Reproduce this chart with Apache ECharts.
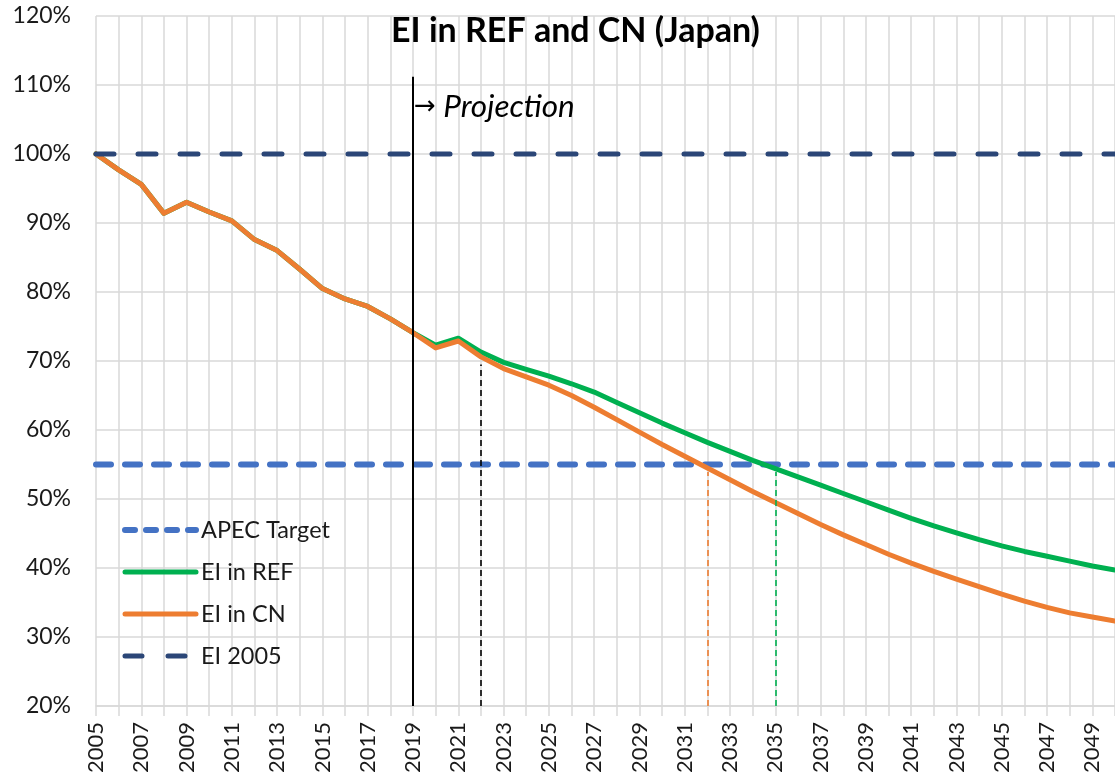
<!DOCTYPE html>
<html>
<head>
<meta charset="utf-8">
<script src="https://cdn.jsdelivr.net/npm/echarts@6/dist/echarts.min.js"></script>
<style>
html,body{margin:0;padding:0;background:#fff;}
#chart{width:1115px;height:780px;}
</style>
</head>
<body>
<div id="chart"></div>
<script>
// ---- Data ----
const years = ['2005','2006','2007','2008','2009','2010','2011','2012','2013','2014','2015','2016','2017','2018','2019','2020','2021','2022','2023','2024','2025','2026','2027','2028','2029','2030','2031','2032','2033','2034','2035','2036','2037','2038','2039','2040','2041','2042','2043','2044','2045','2046','2047','2048','2049','2050'];

const eiREF = [100,97.7,95.6,91.4,93.0,91.6,90.3,87.6,86.0,83.3,80.5,79.0,77.9,76.1,74.1,72.3,73.3,71.3,69.8,68.8,67.8,66.7,65.5,64.0,62.5,61.0,59.6,58.2,56.9,55.6,54.4,53.2,52.0,50.8,49.6,48.4,47.2,46.1,45.1,44.1,43.2,42.4,41.7,41.0,40.3,39.7];

const eiCN = [100,97.7,95.6,91.4,93.0,91.6,90.3,87.6,86.0,83.3,80.5,79.0,77.9,76.1,74.1,71.9,72.9,70.6,68.9,67.7,66.5,65.0,63.3,61.5,59.7,57.9,56.2,54.5,52.8,51.1,49.5,47.9,46.3,44.8,43.4,42.0,40.7,39.5,38.4,37.3,36.2,35.2,34.3,33.5,32.9,32.3];

const apecTarget = [55,55,55,55,55,55,55,55,55,55,55,55,55,55,55,55,55,55,55,55,55,55,55,55,55,55,55,55,55,55,55,55,55,55,55,55,55,55,55,55,55,55,55,55,55,55];

const ei2005 = [100,100,100,100,100,100,100,100,100,100,100,100,100,100,100,100,100,100,100,100,100,100,100,100,100,100,100,100,100,100,100,100,100,100,100,100,100,100,100,100,100,100,100,100,100,100];

// Annotation anchors (year, value)
const projectionYear = '2019';
const projectionTop = 111.2;
const projectionLabelValue = 106.8;
const baseYearMark = ['2022', 69.5];
const cnTargetMark = ['2032', 53.9];
const refTargetMark = ['2035', 53.9];
const yMin = 20, yMax = 120, yStep = 10;

// ---- Chart ----
const FONT = 'Lato, "Open Sans", sans-serif';
const GRID = '#D9D9D9';
const C_APEC = '#4472C4', C_REF = '#00B050', C_CN = '#ED7D31', C_05 = '#2B4677';
const HIDE_SYM = {opacity: 0};
const chart = echarts.init(document.getElementById('chart'), null, {renderer: 'canvas'});

chart.setOption({
  backgroundColor: '#ffffff',
  animation: false,
  title: {
    text: 'EI in REF and CN (Japan)',
    left: 386,
    top: 9,
    textStyle: {fontFamily: FONT, fontWeight: 'bold', fontSize: 34, color: '#000'}
  },
  legend: {
    data: [
      {name: 'APEC Target', itemStyle: HIDE_SYM, lineStyle: {width: 6, type: [10, 11], cap: 'round', color: C_APEC}},
      {name: 'EI in REF', itemStyle: HIDE_SYM, lineStyle: {width: 5, type: 'solid', cap: 'round', color: C_REF}},
      {name: 'EI in CN', itemStyle: HIDE_SYM, lineStyle: {width: 5, type: 'solid', cap: 'round', color: C_CN}},
      {name: 'EI 2005', itemStyle: HIDE_SYM, lineStyle: {width: 5, type: [17, 26], cap: 'round', color: C_05}}
    ],
    orient: 'vertical',
    left: 122,
    top: 518,
    padding: 0,
    itemWidth: 71,
    itemHeight: 22,
    itemGap: 18,
    textStyle: {fontFamily: FONT, fontSize: 23.5, color: '#1a1a1a'}
  },
  grid: {left: 96, right: 0, top: 16, bottom: 74, containLabel: false},
  xAxis: {
    type: 'category',
    data: years,
    boundaryGap: false,
    axisLine: {show: true, lineStyle: {color: GRID, width: 1.5}},
    axisTick: {show: true, interval: 0, length: 10, lineStyle: {color: GRID, width: 1.5}},
    splitLine: {show: true, interval: 0, lineStyle: {color: GRID, width: 1.5}},
    axisLabel: {interval: 1, rotate: 90, margin: 16, fontFamily: FONT, fontSize: 22, color: '#1a1a1a'}
  },
  yAxis: {
    type: 'value',
    min: yMin, max: yMax, interval: yStep,
    axisLine: {show: false},
    axisTick: {show: false},
    splitLine: {show: true, lineStyle: {color: GRID, width: 1.5}},
    axisLabel: {formatter: '{value}%', margin: 25, fontFamily: FONT, fontSize: 23, color: '#1a1a1a'}
  },
  series: [
    {
      name: 'APEC Target', type: 'line', data: apecTarget, symbol: 'none', silent: true,
      itemStyle: {color: C_APEC},
      lineStyle: {color: C_APEC, width: 6, type: [15, 14], cap: 'round'}
    },
    {
      name: 'EI in REF', type: 'line', data: eiREF, symbol: 'none', silent: true,
      itemStyle: {color: C_REF},
      lineStyle: {color: C_REF, width: 5, cap: 'round', join: 'round'}
    },
    {
      name: 'EI in CN', type: 'line', data: eiCN, symbol: 'none', silent: true,
      itemStyle: {color: C_CN},
      lineStyle: {color: C_CN, width: 5, cap: 'round', join: 'round'}
    },
    {
      name: 'EI 2005', type: 'line', data: ei2005, symbol: 'none', silent: true,
      itemStyle: {color: C_05},
      lineStyle: {color: C_05, width: 5, type: [18, 24], cap: 'round'},
      markLine: {
        silent: true, symbol: ['none', 'none'], label: {show: false},
        data: [
          [{coord: [projectionYear, yMin], lineStyle: {color: '#000', width: 2, type: 'solid'}}, {coord: [projectionYear, projectionTop]}],
          [{coord: [baseYearMark[0], yMin], lineStyle: {color: '#000', width: 1.6, type: [6, 4]}}, {coord: baseYearMark}],
          [{coord: [cnTargetMark[0], yMin], lineStyle: {color: C_CN, width: 1.6, type: [6, 4]}}, {coord: cnTargetMark}],
          [{coord: [refTargetMark[0], yMin], lineStyle: {color: C_REF, width: 1.6, type: [6, 4]}}, {coord: refTargetMark}]
        ]
      },
      markPoint: {
        silent: true,
        symbol: 'circle', symbolSize: 0,
        data: [{coord: [projectionYear, projectionLabelValue]}],
        label: {
          show: true, position: 'right', distance: 1,
          formatter: '{a|→}{b| Projection}',
          rich: {
            a: {fontFamily: 'DejaVu Sans', fontSize: 26, color: '#000', verticalAlign: 'middle'},
            b: {fontFamily: FONT, fontStyle: 'italic', fontSize: 31.5, color: '#000', verticalAlign: 'middle'}
          }
        }
      }
    }
  ]
});
</script>
</body>
</html>
